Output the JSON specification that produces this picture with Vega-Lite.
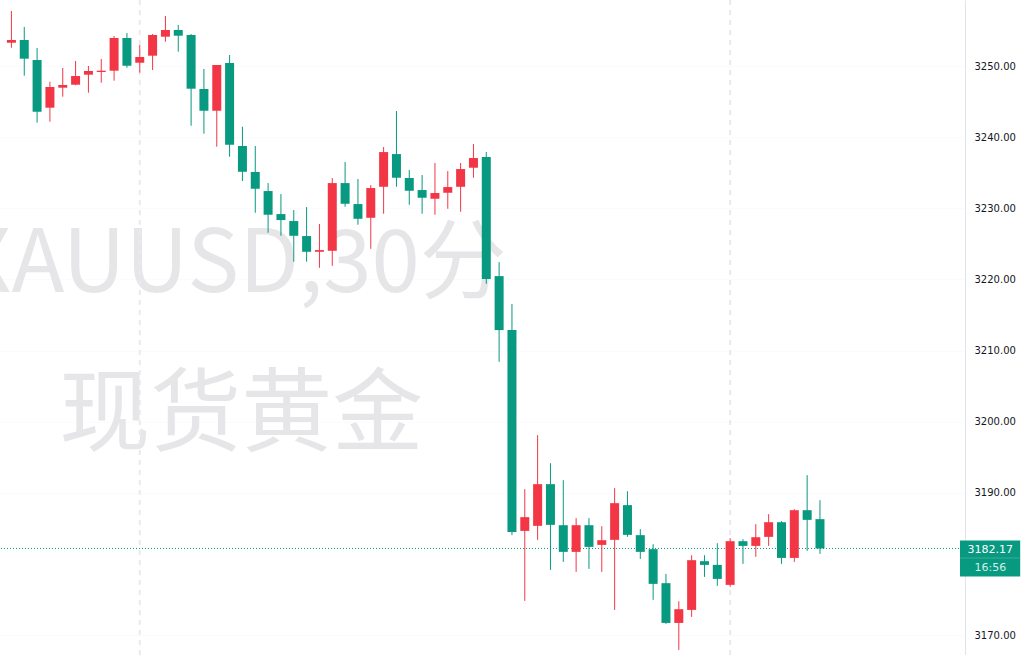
{
  "$schema": "https://vega.github.io/schema/vega-lite/v6.json",
  "width": 965,
  "height": 655,
  "autosize": {"type": "none"},
  "padding": {"left": 0, "top": 0, "right": 60, "bottom": 0},
  "background": "#ffffff",
  "config": {"view": {"stroke": null}},
  "datasets": {
    "candles": [
      {"i": 1, "o": 3253.28, "h": 3257.74, "l": 3252.57, "c": 3253.66},
      {"i": 2, "o": 3253.66, "h": 3255.49, "l": 3248.64, "c": 3251.03},
      {"i": 3, "o": 3250.84, "h": 3252.53, "l": 3242.03, "c": 3243.57},
      {"i": 4, "o": 3244.14, "h": 3247.79, "l": 3242.17, "c": 3247.05},
      {"i": 5, "o": 3246.95, "h": 3249.72, "l": 3245.68, "c": 3247.33},
      {"i": 6, "o": 3247.37, "h": 3250.70, "l": 3247.30, "c": 3248.59},
      {"i": 7, "o": 3248.78, "h": 3250.00, "l": 3246.25, "c": 3249.30},
      {"i": 8, "o": 3249.16, "h": 3250.98, "l": 3247.65, "c": 3249.34},
      {"i": 9, "o": 3249.34, "h": 3254.22, "l": 3247.93, "c": 3253.94},
      {"i": 10, "o": 3253.94, "h": 3254.64, "l": 3249.76, "c": 3250.04},
      {"i": 11, "o": 3250.46, "h": 3252.95, "l": 3249.06, "c": 3251.27},
      {"i": 12, "o": 3251.45, "h": 3254.50, "l": 3249.44, "c": 3254.36},
      {"i": 13, "o": 3254.12, "h": 3257.03, "l": 3253.42, "c": 3255.06},
      {"i": 14, "o": 3255.06, "h": 3255.77, "l": 3252.01, "c": 3254.26},
      {"i": 15, "o": 3254.36, "h": 3254.50, "l": 3241.60, "c": 3246.81},
      {"i": 16, "o": 3246.77, "h": 3249.58, "l": 3240.48, "c": 3243.71},
      {"i": 17, "o": 3243.71, "h": 3250.14, "l": 3238.65, "c": 3250.14},
      {"i": 18, "o": 3250.42, "h": 3251.55, "l": 3237.24, "c": 3238.93},
      {"i": 19, "o": 3238.75, "h": 3241.46, "l": 3233.83, "c": 3235.13},
      {"i": 20, "o": 3235.09, "h": 3238.75, "l": 3229.37, "c": 3232.74},
      {"i": 21, "o": 3232.42, "h": 3233.54, "l": 3226.56, "c": 3229.09},
      {"i": 22, "o": 3229.18, "h": 3232.00, "l": 3226.13, "c": 3228.34},
      {"i": 23, "o": 3228.20, "h": 3229.75, "l": 3222.48, "c": 3226.13},
      {"i": 24, "o": 3226.09, "h": 3230.17, "l": 3222.48, "c": 3223.88},
      {"i": 25, "o": 3223.88, "h": 3227.78, "l": 3221.63, "c": 3224.12},
      {"i": 26, "o": 3224.02, "h": 3234.25, "l": 3221.91, "c": 3233.54},
      {"i": 27, "o": 3233.54, "h": 3236.50, "l": 3230.21, "c": 3230.63},
      {"i": 28, "o": 3230.59, "h": 3234.11, "l": 3227.68, "c": 3228.52},
      {"i": 29, "o": 3228.66, "h": 3233.26, "l": 3224.30, "c": 3232.84},
      {"i": 30, "o": 3233.02, "h": 3238.61, "l": 3229.23, "c": 3237.90},
      {"i": 31, "o": 3237.62, "h": 3243.67, "l": 3233.02, "c": 3234.29},
      {"i": 32, "o": 3234.25, "h": 3235.37, "l": 3230.49, "c": 3232.46},
      {"i": 33, "o": 3232.56, "h": 3234.67, "l": 3229.23, "c": 3231.48},
      {"i": 34, "o": 3231.34, "h": 3236.36, "l": 3229.09, "c": 3232.14},
      {"i": 35, "o": 3232.18, "h": 3235.23, "l": 3229.93, "c": 3232.98},
      {"i": 36, "o": 3233.02, "h": 3236.36, "l": 3229.51, "c": 3235.51},
      {"i": 37, "o": 3235.70, "h": 3239.03, "l": 3234.29, "c": 3237.06},
      {"i": 38, "o": 3237.20, "h": 3237.90, "l": 3219.38, "c": 3220.04},
      {"i": 39, "o": 3220.46, "h": 3222.43, "l": 3208.41, "c": 3212.87},
      {"i": 40, "o": 3212.87, "h": 3216.53, "l": 3184.04, "c": 3184.50},
      {"i": 41, "o": 3184.64, "h": 3190.51, "l": 3174.80, "c": 3186.57},
      {"i": 42, "o": 3185.35, "h": 3198.10, "l": 3183.38, "c": 3191.21},
      {"i": 43, "o": 3191.21, "h": 3194.16, "l": 3179.16, "c": 3185.49},
      {"i": 44, "o": 3185.44, "h": 3191.77, "l": 3180.28, "c": 3181.69},
      {"i": 45, "o": 3181.69, "h": 3186.43, "l": 3178.88, "c": 3185.44},
      {"i": 46, "o": 3185.44, "h": 3186.43, "l": 3179.30, "c": 3182.39},
      {"i": 47, "o": 3182.67, "h": 3185.30, "l": 3178.88, "c": 3183.33},
      {"i": 48, "o": 3183.38, "h": 3190.65, "l": 3173.53, "c": 3188.54},
      {"i": 49, "o": 3188.26, "h": 3190.22, "l": 3183.80, "c": 3184.08},
      {"i": 50, "o": 3184.04, "h": 3184.88, "l": 3180.70, "c": 3181.69},
      {"i": 51, "o": 3182.07, "h": 3182.77, "l": 3174.94, "c": 3177.19},
      {"i": 52, "o": 3177.29, "h": 3178.59, "l": 3171.56, "c": 3171.70},
      {"i": 53, "o": 3171.70, "h": 3174.75, "l": 3167.91, "c": 3173.63},
      {"i": 54, "o": 3173.53, "h": 3181.22, "l": 3172.55, "c": 3180.52},
      {"i": 55, "o": 3180.38, "h": 3181.22, "l": 3178.17, "c": 3179.86},
      {"i": 56, "o": 3179.86, "h": 3182.91, "l": 3176.91, "c": 3177.89},
      {"i": 57, "o": 3177.05, "h": 3183.61, "l": 3176.77, "c": 3183.19},
      {"i": 58, "o": 3183.19, "h": 3183.47, "l": 3180.00, "c": 3182.53},
      {"i": 59, "o": 3182.53, "h": 3185.58, "l": 3180.99, "c": 3183.75},
      {"i": 60, "o": 3183.80, "h": 3186.99, "l": 3182.53, "c": 3185.86},
      {"i": 61, "o": 3185.86, "h": 3186.00, "l": 3180.00, "c": 3180.84},
      {"i": 62, "o": 3180.84, "h": 3187.69, "l": 3180.28, "c": 3187.55},
      {"i": 63, "o": 3187.55, "h": 3192.48, "l": 3181.83, "c": 3186.19},
      {"i": 64, "o": 3186.29, "h": 3188.96, "l": 3181.41, "c": 3182.17}
    ],
    "watermark": [
      {"i": 39.6, "p": 3218.26, "t": "XAUUSD,30分", "a": "right"},
      {"i": 18.9, "p": 3196.85, "t": "现货黄金", "a": "center"}
    ],
    "seps": [{"i": 11}, {"i": 57}],
    "box": [{"i": 74.91, "i2": 79.6, "p": 3183.28, "p2": 3178.22}],
    "boxtext": [
      {"i": 77.27, "p": 3182.0, "t": "3182.17", "k": "price"},
      {"i": 77.27, "p": 3179.49, "t": "16:56", "k": "time"}
    ]
  },
  "layer": [
    {
      "data": {"name": "watermark"},
      "transform": [{"filter": "datum.a == 'right'"}],
      "mark": {"type": "text", "font": "Noto Sans CJK SC", "fontSize": 87, "color": "#e6e6e9", "align": "right", "baseline": "alphabetic"},
      "encoding": {
        "x": {"field": "i", "type": "quantitative", "scale": {"domain": [0.5, 74.91], "nice": false, "zero": false}, "axis": null},
        "y": {"field": "p", "type": "quantitative", "scale": {"domain": [3167.19, 3259.28], "nice": false, "zero": false},
          "axis": {"orient": "right", "values": [3170, 3190, 3200, 3210, 3220, 3230, 3240, 3250], "format": ".2f", "title": null,
            "labelFont": "DejaVu Sans", "labelFontSize": 10, "labelColor": "#131722", "ticks": false, "tickSize": 0, "labelPadding": 9,
            "domain": true, "domainColor": "#e0e3eb", "domainWidth": 1, "grid": true, "gridColor": "#fafbfc", "gridWidth": 1}},
        "text": {"field": "t"}
      }
    },
    {
      "data": {"name": "watermark"},
      "transform": [{"filter": "datum.a == 'center'"}],
      "mark": {"type": "text", "font": "Noto Sans CJK SC", "fontSize": 91, "color": "#e6e6e9", "align": "center", "baseline": "alphabetic"},
      "encoding": {
        "x": {"field": "i", "type": "quantitative"},
        "y": {"field": "p", "type": "quantitative"},
        "text": {"field": "t"}
      }
    },
    {
      "data": {"name": "seps"},
      "mark": {"type": "rule", "color": "#e8eaf0", "strokeWidth": 2, "strokeDash": [5, 5]},
      "encoding": {"x": {"field": "i", "type": "quantitative"}}
    },
    {
      "data": {"values": [{"p": 3182.17}]},
      "mark": {"type": "rule", "color": "#089981", "strokeWidth": 1, "strokeDash": [1, 2]},
      "encoding": {"y": {"field": "p", "type": "quantitative"}}
    },
    {
      "data": {"name": "candles"},
      "mark": {"type": "rule", "strokeWidth": 1},
      "encoding": {
        "x": {"field": "i", "type": "quantitative"},
        "y": {"field": "l", "type": "quantitative"},
        "y2": {"field": "h"},
        "color": {"condition": {"test": "datum.c < datum.o", "value": "#089981"}, "value": "#F23645"}
      }
    },
    {
      "data": {"name": "candles"},
      "mark": {"type": "bar", "width": 9},
      "encoding": {
        "x": {"field": "i", "type": "quantitative"},
        "y": {"field": "o", "type": "quantitative"},
        "y2": {"field": "c"},
        "color": {"condition": {"test": "datum.c < datum.o", "value": "#089981"}, "value": "#F23645"}
      }
    },
    {
      "data": {"name": "box"},
      "mark": {"type": "rect", "color": "#089981"},
      "encoding": {
        "x": {"field": "i", "type": "quantitative"},
        "x2": {"field": "i2"},
        "y": {"field": "p", "type": "quantitative"},
        "y2": {"field": "p2"}
      }
    },
    {
      "data": {"values": [{"i": 74.91, "i2": 79.6, "p": 3180.82}]},
      "mark": {"type": "rule", "color": "#3aae96", "strokeWidth": 1},
      "encoding": {
        "x": {"field": "i", "type": "quantitative"},
        "x2": {"field": "i2"},
        "y": {"field": "p", "type": "quantitative"}
      }
    },
    {
      "data": {"name": "boxtext"},
      "mark": {"type": "text", "font": "DejaVu Sans", "fontSize": 11, "align": "center", "baseline": "middle"},
      "encoding": {
        "x": {"field": "i", "type": "quantitative"},
        "y": {"field": "p", "type": "quantitative"},
        "text": {"field": "t"},
        "fontWeight": {"condition": {"test": "datum.k == 'price'", "value": "bold"}, "value": "normal"},
        "color": {"condition": {"test": "datum.k == 'price'", "value": "#ffffff"}, "value": "#d4eee8"}
      }
    }
  ]
}
